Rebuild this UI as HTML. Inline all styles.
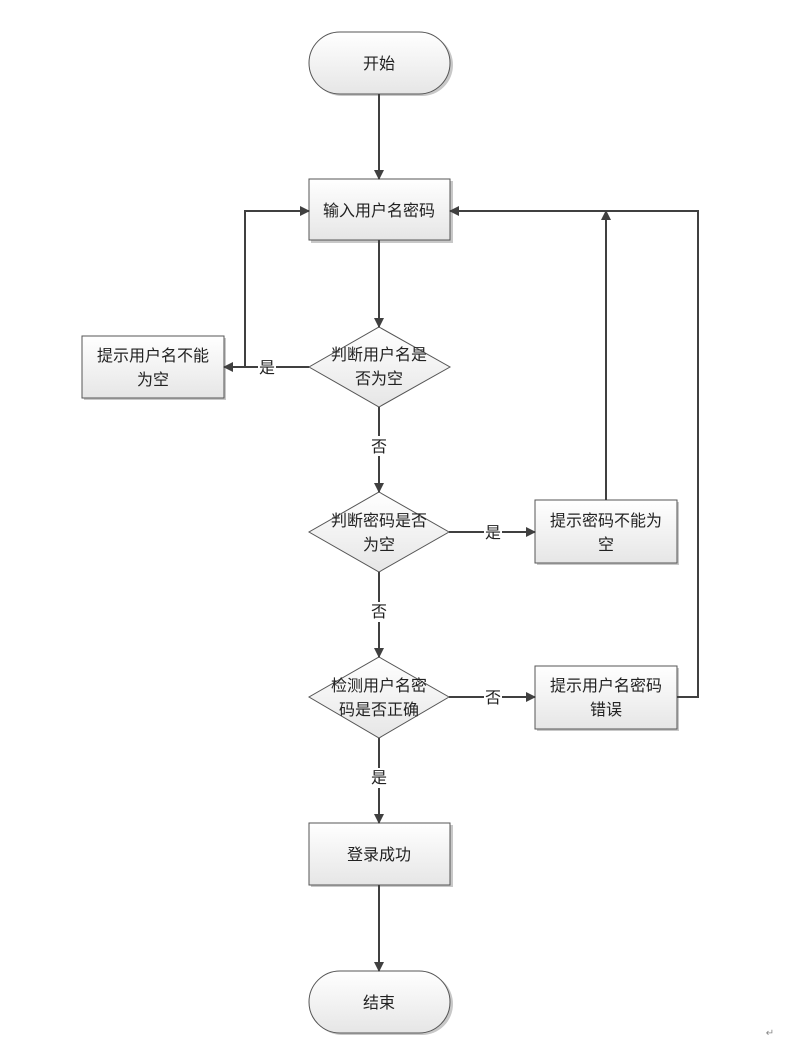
<!DOCTYPE html>
<html><head><meta charset="utf-8"><style>
html,body{margin:0;padding:0;background:#fff;}
svg text{font-family:"Liberation Sans","Noto Sans CJK SC","WenQuanYi Zen Hei",sans-serif;font-size:16px;fill:#222;text-anchor:middle;}
</style></head><body>
<svg width="798" height="1038" viewBox="0 0 798 1038" xmlns="http://www.w3.org/2000/svg">
<defs>
<linearGradient id="g" x1="0" y1="0" x2="0" y2="1"><stop offset="0" stop-color="#ffffff"/><stop offset="1" stop-color="#e6e6e6"/></linearGradient>
<marker id="a" markerWidth="10" markerHeight="10" refX="9" refY="5" orient="auto" markerUnits="userSpaceOnUse"><path d="M0,0 L10,5 L0,10 z" fill="#404040"/></marker>
</defs>
<g fill="#c8c8c8">
<rect x="311" y="34" width="142" height="62" rx="31"/>
<rect x="311" y="181" width="142" height="62"/>
<rect x="84" y="338" width="142" height="62"/>
<rect x="537" y="502" width="142" height="63"/>
<rect x="537" y="668" width="142" height="63"/>
<rect x="311" y="825" width="142" height="62"/>
<rect x="311" y="973" width="142" height="62" rx="31"/>
</g>
<g stroke="#555" stroke-width="1" fill="url(#g)">
<rect x="309" y="32" width="141" height="62" rx="31"/>
<rect x="309" y="179" width="141" height="61"/>
<rect x="82" y="336" width="142" height="62"/>
<polygon points="379,327 450,367 379,407 309,367"/>
<polygon points="379,492 449,532 379,572 309,532"/>
<rect x="535" y="500" width="142" height="63"/>
<polygon points="379,657 449,697 379,738 309,697"/>
<rect x="535" y="666" width="142" height="63"/>
<rect x="309" y="823" width="141" height="62"/>
<rect x="309" y="971" width="141" height="62" rx="31"/>
</g>
<g stroke="#404040" stroke-width="2" fill="none" marker-end="url(#a)">
<path d="M379,94 V179"/>
<path d="M379,240 V327"/>
<path d="M309,367 H224"/>
<path d="M245,367 V211 H309"/>
<path d="M379,407 V492"/>
<path d="M449,532 H535"/>
<path d="M606,500 V211"/>
<path d="M379,572 V657"/>
<path d="M449,697 H535"/>
<path d="M677,697 H698 V211 H450"/>
<path d="M379,738 V823"/>
<path d="M379,885 V971"/>
</g>
<g fill="#fff">
<rect x="258" y="357" width="18" height="20"/>
<rect x="370" y="436" width="18" height="20"/>
<rect x="484" y="522" width="18" height="20"/>
<rect x="370" y="602" width="18" height="20"/>
<rect x="484" y="687" width="18" height="20"/>
<rect x="370" y="768" width="18" height="20"/>
</g>
<text x="379" y="69">开始</text>
<text x="379" y="216">输入用户名密码</text>
<text x="153" y="361">提示用户名不能</text>
<text x="153" y="385">为空</text>
<text x="379" y="360">判断用户名是</text>
<text x="379" y="384">否为空</text>
<text x="267" y="373">是</text>
<text x="379" y="452">否</text>
<text x="379" y="526">判断密码是否</text>
<text x="379" y="550">为空</text>
<text x="493" y="538">是</text>
<text x="606" y="526">提示密码不能为</text>
<text x="606" y="550">空</text>
<text x="379" y="617">否</text>
<text x="379" y="691">检测用户名密</text>
<text x="379" y="715">码是否正确</text>
<text x="493" y="703">否</text>
<text x="606" y="691">提示用户名密码</text>
<text x="606" y="715">错误</text>
<text x="379" y="783">是</text>
<text x="379" y="860">登录成功</text>
<text x="379" y="1008">结束</text>
<text x="770" y="1036" style="font-size:10px;fill:#888">↵</text>
</svg>
</body></html>
